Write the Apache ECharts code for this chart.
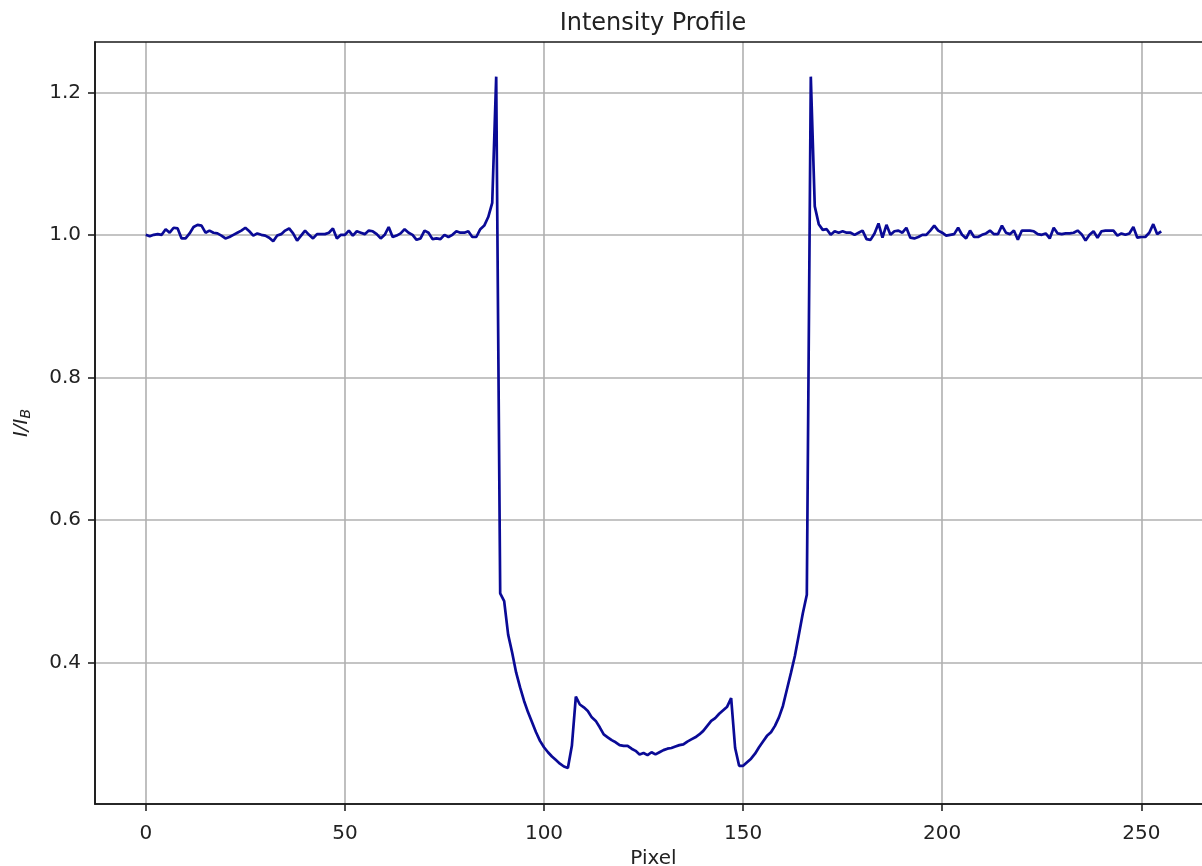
<!DOCTYPE html>
<html>
<head>
<meta charset="utf-8">
<script src="https://cdn.jsdelivr.net/npm/echarts@6/dist/echarts.min.js"></script>
<style>html,body{margin:0;padding:0;background:#fff;}#c{width:1202px;height:866px;}</style>
</head>
<body>
<div id="c"></div>
<script>
// Intensity I/I_B read per pixel (pixel index = position in the concatenated list, starting at 0)
const leftBaseline = [1.000,0.998,1.0,1.001,1.0,1.008,1.003,1.010,1.009,0.995,0.995,1.002,1.011,1.014,1.013,1.003,1.006,1.003,1.002,0.999,0.995,0.997,1.0,1.003,1.006,1.010,1.005,0.999,1.002,1.0,0.999,0.996,0.991,0.999,1.001,1.006,1.009,1.002,0.992,0.999,1.006,1.0,0.995,1.001,1.001,1.001,1.003,1.009,0.995,
  1.0,1.0,1.006,0.999,1.005,1.003,1.001,1.006,1.005,1.001,0.995,1.0,1.011,0.997,0.999,1.002,1.008,1.003,1.0,0.993,0.995,1.006,1.003,0.994,0.995,0.994,1.0,0.997,1.0,1.005,1.003,1.003,1.005,0.997,0.997,1.008];
const leftEdge = [1.013,1.025,1.045,1.222];
const leftFall = [0.497,0.486,0.439,0.414,0.386,0.365,0.346,0.330,0.316,0.302,0.290,0.281,0.274,0.268,0.263,0.258,0.254,0.252,0.283,0.352,0.341,0.337,0.332];
const trough = [0.323,0.318,0.309,0.299,0.295,0.291,0.288,0.284,0.283,0.283,0.279,0.276,0.271,0.273,0.270,0.274,0.271,0.274,0.277,0.279,0.280,0.282,0.284,0.285,0.289,0.292,0.295,0.299,0.304,0.311,0.318,0.322,0.328,0.333,0.338,0.350,0.280,0.255,0.255];
const rightRise = [0.260,0.265,0.272,0.281,0.289,0.297,0.302,0.311,0.323,0.339,0.362,0.385,0.409,0.439,0.469,0.495];
const rightEdge = [1.222,1.040];
const rightBaseline = [1.015,1.007,1.008,1.0,1.005,1.003,1.005,1.003,1.003,1.0,1.003,1.006,0.994,0.993,1.002,1.016,0.996,1.014,1.0,1.005,1.006,1.003,1.010,0.996,0.995,0.997,1.0,1.0,1.006,1.013,1.006,1.003,0.999,1.0,1.001,1.010,1.0,0.995,1.006,0.997,0.997,1.0,1.002,1.006,1.001,1.001,1.013,1.003,1.001,1.006,0.993,1.006,1.006,1.006,1.005,1.001,1.0,1.002,0.995,1.010,1.002,1.001,1.002,1.002,1.003,1.006,1.001,0.992,1.0,1.005,0.996,1.005,1.006,1.006,1.006,0.999,1.002,1.0,1.002,1.011,0.996,0.997,0.997,1.003,1.015,1.001,1.005];
const xTicks = [0,50,100,150,200,250];
const yTicks = [0.4,0.6,0.8,1.0,1.2];

const intensity = [].concat(leftBaseline, leftEdge, leftFall, trough, rightRise, rightEdge, rightBaseline);
const points = intensity.map((v, i) => [i, v]);

const font = 'DejaVu Sans';
const chart = echarts.init(document.getElementById('c'), null, {renderer: 'canvas'});
chart.setOption({
  animation: false,
  backgroundColor: '#ffffff',
  title: {
    text: 'Intensity Profile',
    left: 648, top: 7, textAlign: 'center',
    textStyle: {fontFamily: font, fontSize: 24, fontWeight: 'normal', color: '#222'}
  },
  grid: {left: 95, top: 42, width: 1117, height: 762, outerBoundsMode: 'none', containLabel: false,
    show: true, borderColor: '#1a1a1a', borderWidth: 1.6, backgroundColor: 'transparent', z: 3},
  xAxis: {
    type: 'value', min: -12.75, max: 267.75, splitNumber: 5,
    name: 'Pixel', nameLocation: 'middle', nameGap: 40,
    nameTextStyle: {fontFamily: font, fontSize: 20, color: '#222'},
    axisLine: {show: true, onZero: false, lineStyle: {color: '#1a1a1a', width: 1.6}},
    axisTick: {show: true, length: 7, inside: false, customValues: xTicks, lineStyle: {color: '#222', width: 1.6}},
    axisLabel: {show: true, fontFamily: font, fontSize: 20, color: '#222', margin: 20, customValues: xTicks,
      showMinLabel: true, showMaxLabel: true, formatter: v => String(v)},
    splitLine: {show: true, showMinLine: true, showMaxLine: true, lineStyle: {color: '#b0b0b0', width: 1.6}}
  },
  yAxis: {
    type: 'value', min: 0.2014, max: 1.2706, splitNumber: 5,
    name: '{i|I/I}{s|B}', nameLocation: 'middle', nameGap: 62, nameRotate: 90,
    nameTextStyle: {
      rich: {
        i: {fontFamily: font, fontSize: 20, fontStyle: 'italic', color: '#222'},
        s: {fontFamily: font, fontSize: 14, fontStyle: 'italic', color: '#222', verticalAlign: 'bottom', padding: [8, 0, 0, 0]}
      }
    },
    axisLine: {show: true, onZero: false, lineStyle: {color: '#1a1a1a', width: 1.6}},
    axisTick: {show: true, length: 7, inside: false, customValues: yTicks, lineStyle: {color: '#222', width: 1.6}},
    axisLabel: {show: true, fontFamily: font, fontSize: 20, color: '#222', margin: 14, customValues: yTicks,
      showMinLabel: true, showMaxLabel: true, formatter: v => v.toFixed(1)},
    splitLine: {show: true, showMinLine: true, showMaxLine: true, lineStyle: {color: '#b0b0b0', width: 1.6}}
  },
  series: [{
    type: 'line', data: points, showSymbol: false, symbol: 'none',
    lineStyle: {color: '#0a0a96', width: 2.7}, z: 5
  }]
});
</script>
</body>
</html>
